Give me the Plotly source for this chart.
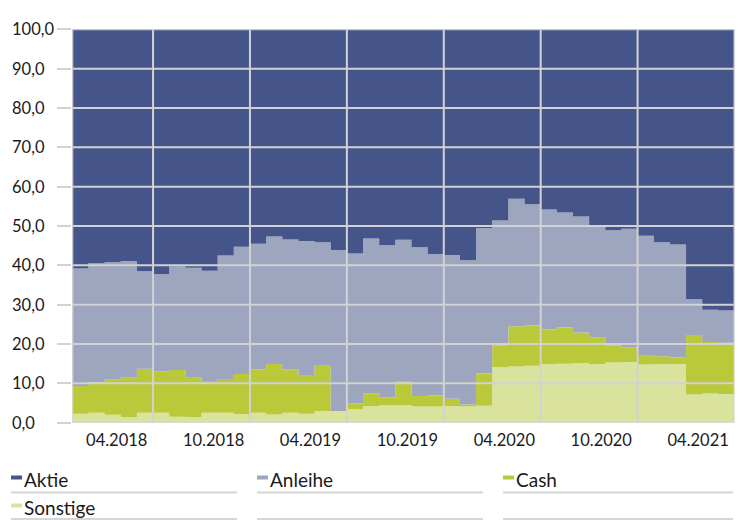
import pandas as pd
import plotly.graph_objects as go

# Monthly asset allocation in percent, 02.2018 - 06.2021
months = pd.date_range("2018-02-01", periods=41, freq="MS").strftime("%m.%Y").tolist()

sonstige = [2.3, 2.5, 2.0, 1.4, 2.5,
            2.5, 1.5, 1.4, 2.5, 2.5, 2.2,
            2.5, 2.1, 2.5, 2.3, 3.0, 3.0,
            3.4, 4.2, 4.5, 4.5, 4.1, 4.1,
            4.2, 4.1, 4.3, 14.1, 14.3, 14.5,
            14.9, 15.0, 15.1, 14.9, 15.3, 15.4,
            14.8, 14.9, 14.9, 7.2, 7.4, 7.3]
cash = [7.0, 7.8, 8.9, 10.0, 11.2,
        10.6, 11.9, 10.0, 8.1, 8.6, 10.2,
        11.0, 12.8, 11.1, 9.8, 11.5, 0.0,
        1.5, 3.3, 2.0, 5.9, 2.7, 2.8,
        1.9, 0.5, 8.2, 5.5, 10.2, 10.2,
        8.8, 9.2, 7.8, 6.8, 4.3, 3.8,
        2.2, 2.0, 1.7, 15.1, 13.1, 13.0]
anleihe = [29.9, 30.2, 29.9, 29.7, 24.8,
           24.7, 26.3, 28.0, 28.0, 31.4, 32.3,
           32.0, 32.4, 33.0, 34.1, 31.4, 40.9,
           38.1, 39.3, 38.6, 36.1, 37.8, 36.0,
           36.5, 36.7, 37.0, 31.8, 32.4, 30.8,
           30.5, 29.2, 29.5, 28.1, 29.3, 30.1,
           30.5, 29.0, 28.7, 9.1, 8.2, 8.2]
aktie = [60.8, 59.5, 59.2, 58.9, 61.5,
         62.2, 60.3, 60.6, 61.4, 57.5, 55.3,
         54.5, 52.7, 53.4, 53.8, 54.1, 56.1,
         57.0, 53.2, 54.9, 53.5, 55.4, 57.1,
         57.4, 58.7, 50.5, 48.6, 43.1, 44.5,
         45.8, 46.6, 47.6, 50.2, 51.1, 50.7,
         52.5, 54.1, 54.7, 68.6, 71.3, 71.5]

tick_labels = ["04.2018", "10.2018", "04.2019", "10.2019", "04.2020", "10.2020", "04.2021"]
y_ticks = list(range(0, 101, 10))

series = [("Aktie", aktie, "#465589"),
          ("Anleihe", anleihe, "#9DA5BF"),
          ("Cash", cash, "#B9C93A"),
          ("Sonstige", sonstige, "#D9E39E")]

GRID = "#D2D2D2"
TEXT = "#1A1A1A"
FONT = "Lato"
W, H = 742, 520

def px(x):
    return x / W

def py(y):
    return 1 - y / H

n = len(months)
xs = list(range(n)) + [n]          # step edges, last value held to the end
bounds = [0] + [i for i, m in enumerate(months) if m[:2] in ("01", "07")] + [n]
label_pos = [months.index(t) + 0.75 for t in tick_labels]

fig = go.Figure()
# stack from the bottom up
for name, vals, color in reversed(series):
    fig.add_trace(go.Scatter(
        x=xs, y=vals + [vals[-1]], name=name, stackgroup="alloc",
        mode="lines", line=dict(width=0, shape="hv"), fillcolor=color,
        showlegend=False, hoverinfo="skip"))

# grid drawn over the filled areas
shapes = []
for v in y_ticks:
    shapes.append(dict(type="line", xref="x", yref="y", x0=0, x1=n, y0=v, y1=v,
                       line=dict(color=GRID, width=2), layer="above"))
for b in bounds:
    shapes.append(dict(type="line", xref="x", yref="y", x0=b, x1=b, y0=0, y1=100,
                       line=dict(color=GRID, width=2), layer="above"))

annotations = []
# left-aligned value labels of the y axis
for v in y_ticks:
    annotations.append(dict(text=f"{v:.1f}".replace(".", ","), xref="paper", yref="y",
                            x=px(10), y=v, xanchor="left", yanchor="middle",
                            showarrow=False, font=dict(family=FONT, size=16.5, color=TEXT)))

# legend: three columns, underlined rows
cols = [11, 257, 503]
col_w = 226
rows = [(477.5, 492.5), (505.5, 519)]
for k, (name, vals, color) in enumerate(series):
    r, c = divmod(k, 3)
    cy, _ = rows[r]
    x0 = cols[c]
    shapes.append(dict(type="rect", xref="paper", yref="paper",
                       x0=px(x0), x1=px(x0 + 11), y0=py(cy + 2), y1=py(cy - 2),
                       fillcolor=color, line=dict(width=0)))
    annotations.append(dict(text=name, xref="paper", yref="paper",
                            x=px(x0 + 11), y=py(cy + 2), xanchor="left", yanchor="middle",
                            showarrow=False, font=dict(family=FONT, size=19, color=TEXT)))
for _, ly in rows:
    for c in cols:
        shapes.append(dict(type="line", xref="paper", yref="paper",
                           x0=px(c), x1=px(c + col_w + (4 if c == cols[-1] else 0)),
                           y0=py(ly), y1=py(ly),
                           line=dict(color="#D6D6D6", width=2)))

fig.update_layout(
    width=W, height=H,
    margin=dict(l=0, r=0, t=0, b=0),
    paper_bgcolor="white", plot_bgcolor="white",
    showlegend=False,
    shapes=shapes, annotations=annotations,
    xaxis=dict(domain=[px(72.3), px(734.5)], range=[0, n],
               tickvals=label_pos, ticktext=tick_labels, ticks="",
               ticklabelstandoff=6,
               showgrid=False, zeroline=False, showline=False,
               tickfont=dict(family=FONT, size=16.5, color=TEXT)),
    xaxis2=dict(overlaying="x", matches="x", anchor="y", side="bottom",
                tickvals=bounds, ticks="outside", ticklen=13, tickwidth=2, tickcolor=GRID,
                showticklabels=False, showgrid=False, zeroline=False, showline=False),
    yaxis=dict(domain=[py(422.7), py(29.3)], range=[0, 100],
               tickvals=y_ticks, ticks="outside", ticklen=14, tickwidth=2, tickcolor=GRID,
               showticklabels=False, showgrid=False, zeroline=False, showline=False),
)

fig.write_html("out.html")
